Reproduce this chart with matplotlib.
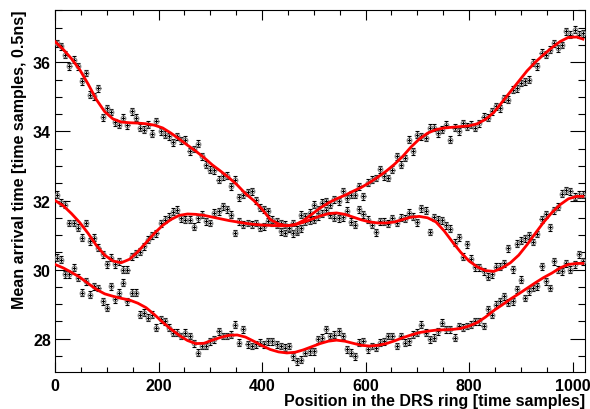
import numpy as np
import matplotlib
matplotlib.use("Agg")
import matplotlib.pyplot as plt
from matplotlib.ticker import MultipleLocator

# bin centres along the DRS ring (8-sample bins, +-4 half width)
pos = np.arange(4, 1024, 8)
pos_err = 4.0
t_err = 0.1

# mean arrival time per bin, three channels
arrival_top = [
    36.55, 36.46, 36.22, 35.88, 36.07, 35.88, 35.45, 35.69, 35.06, 35.01,
    35.25, 34.41, 34.67, 34.56, 34.26, 34.19, 34.39, 34.17, 34.58, 34.39,
    34.10, 34.05, 34.19, 33.93, 34.29, 34.00, 33.90, 33.86, 33.68, 33.86,
    33.74, 33.76, 33.42, 33.49, 33.64, 33.28, 33.04, 32.89, 32.87, 32.60,
    32.70, 32.72, 32.41, 32.60, 32.10, 32.17, 32.24, 32.27, 32.01, 31.79,
    31.74, 31.69, 31.45, 31.40, 31.35, 31.30, 31.20, 31.05, 31.15, 31.59,
    31.54, 31.64, 31.88, 31.74, 31.93, 31.98, 31.88, 32.03, 31.98, 32.27,
    32.07, 32.17, 32.17, 32.41, 32.12, 32.51, 32.60, 32.65, 32.91, 32.70,
    32.65, 32.89, 33.28, 33.04, 33.23, 33.76, 33.42, 33.90, 33.86, 33.81,
    34.10, 34.10, 33.95, 34.05, 34.19, 33.76, 34.10, 34.00, 34.24, 34.14,
    34.19, 34.10, 34.24, 34.43, 34.39, 34.58, 34.72, 34.67, 34.96, 34.92,
    35.20, 35.25, 35.40, 35.45, 35.50, 35.98, 35.88, 36.27, 36.22, 36.36,
    36.55, 36.41, 36.50, 36.89, 36.79, 36.94, 36.79, 36.84,
]
arrival_mid = [
    32.17, 31.93, 31.88, 31.35, 31.35, 31.21, 30.92, 31.35, 30.82, 30.92,
    30.63, 30.44, 30.15, 30.34, 30.15, 30.24, 30.00, 30.00, 30.39, 30.48,
    30.52, 30.67, 30.86, 31.00, 31.05, 31.34, 31.44, 31.53, 31.68, 31.73,
    31.49, 31.44, 31.44, 31.24, 31.49, 31.59, 31.40, 31.35, 31.64, 31.69,
    31.83, 31.74, 31.59, 31.06, 31.40, 31.30, 31.35, 31.30, 31.35, 31.21,
    31.26, 31.40, 31.35, 31.30, 31.11, 31.06, 31.21, 31.35, 31.10, 31.20,
    31.38, 31.42, 31.45, 31.55, 31.62, 31.72, 31.58, 31.50, 31.48, 31.52,
    31.70, 31.38, 31.30, 31.75, 31.60, 31.45, 31.30, 31.08, 31.40, 31.38,
    31.33, 31.48, 31.35, 31.50, 31.47, 31.65, 31.53, 31.37, 31.77, 31.71,
    31.09, 31.51, 31.45, 31.43, 31.28, 31.19, 30.78, 30.93, 30.38, 30.73,
    30.31, 30.07, 30.07, 29.95, 29.79, 29.86, 30.09, 30.09, 30.18, 30.62,
    30.01, 30.75, 30.83, 30.91, 30.99, 30.80, 31.03, 31.46, 31.60, 31.22,
    31.72, 31.82, 32.19, 32.30, 32.27, 32.11, 32.17, 32.17,
]
arrival_low = [
    30.34, 30.29, 29.86, 29.86, 30.05, 29.76, 29.33, 29.67, 29.28, 29.52,
    29.47, 29.09, 28.90, 29.52, 29.14, 29.33, 29.62, 29.09, 29.33, 29.33,
    28.70, 28.75, 28.61, 28.70, 28.32, 28.56, 28.51, 28.32, 28.17, 28.17,
    28.08, 28.17, 28.08, 27.87, 27.59, 27.79, 27.79, 27.93, 27.98, 28.22,
    28.08, 28.08, 28.12, 28.41, 27.88, 28.27, 27.84, 27.79, 27.84, 27.88,
    27.84, 27.93, 27.93, 27.84, 27.79, 27.74, 27.79, 27.50, 27.35, 27.40,
    27.59, 27.64, 27.64, 27.98, 28.03, 28.27, 28.08, 28.12, 28.22, 28.08,
    27.69, 27.59, 27.50, 27.88, 27.93, 27.69, 27.79, 27.74, 27.88, 27.93,
    28.08, 28.08, 27.79, 28.08, 27.88, 27.93, 28.12, 28.17, 28.41, 28.17,
    27.98, 28.03, 28.22, 28.46, 28.27, 28.27, 28.03, 28.37, 28.32, 28.37,
    28.41, 28.51, 28.51, 28.37, 28.85, 28.70, 28.99, 29.09, 29.23, 29.04,
    29.09, 29.43, 29.71, 29.18, 29.38, 29.47, 29.52, 30.10, 29.67, 29.47,
    30.24, 30.00, 29.95, 30.19, 30.00, 30.15, 30.44, 30.24,
]

# fitted curves, sampled every 16 samples
fit_x = np.append(np.arange(0, 1024, 16), 1020)
fit_top = [
    36.60, 36.37, 36.10, 35.78, 35.37, 34.92, 34.57, 34.36, 34.27, 34.25,
    34.24, 34.22, 34.18, 34.10, 33.95, 33.78, 33.60, 33.43, 33.24, 33.03,
    32.85, 32.66, 32.45, 32.20, 32.00, 31.75, 31.45, 31.32, 31.27, 31.30,
    31.42, 31.60, 31.78, 31.93, 32.05, 32.15, 32.27, 32.38, 32.52, 32.68,
    32.85, 33.05, 33.28, 33.55, 33.78, 33.95, 34.05, 34.10, 34.12, 34.14,
    34.16, 34.22, 34.35, 34.55, 34.85, 35.15, 35.45, 35.75, 36.00, 36.22,
    36.42, 36.60, 36.72, 36.73, 36.67,
]
fit_mid = [
    32.00, 31.85, 31.62, 31.36, 31.05, 30.70, 30.42, 30.25, 30.20, 30.30,
    30.52, 30.78, 31.05, 31.28, 31.45, 31.57, 31.61, 31.60, 31.57, 31.52,
    31.47, 31.42, 31.38, 31.34, 31.31, 31.29, 31.28, 31.27, 31.27, 31.30,
    31.37, 31.46, 31.55, 31.62, 31.64, 31.60, 31.52, 31.44, 31.38, 31.35,
    31.35, 31.38, 31.45, 31.52, 31.54, 31.50, 31.38, 31.12, 30.80, 30.50,
    30.25, 30.08, 29.97, 29.95, 30.05, 30.20, 30.42, 30.72, 31.05, 31.37,
    31.65, 31.88, 32.05, 32.12, 32.12,
]
fit_low = [
    30.15, 30.05, 29.92, 29.78, 29.60, 29.43, 29.30, 29.23, 29.17, 29.12,
    29.03, 28.90, 28.70, 28.48, 28.28, 28.10, 27.95, 27.86, 27.87, 27.96,
    28.04, 28.10, 28.11, 28.05, 27.93, 27.80, 27.69, 27.62, 27.59, 27.61,
    27.68, 27.77, 27.86, 27.93, 27.96, 27.93, 27.87, 27.81, 27.79, 27.81,
    27.86, 27.94, 28.03, 28.11, 28.18, 28.22, 28.25, 28.26, 28.27, 28.30,
    28.37, 28.47, 28.63, 28.82, 28.98, 29.15, 29.30, 29.46, 29.62, 29.77,
    29.90, 30.05, 30.15, 30.18, 30.18,
]

plt.rcParams["font.family"] = ["Liberation Sans", "DejaVu Sans"]
plt.rcParams["font.weight"] = "bold"

fig = plt.figure(figsize=(5.9, 4.1), dpi=100)
ax = fig.add_axes([0.0932, 0.0895, 0.8983, 0.8844])

for vals, fit in [(arrival_top, fit_top), (arrival_mid, fit_mid), (arrival_low, fit_low)]:
    ax.errorbar(pos, vals, yerr=t_err, fmt="none", ecolor="black",
                elinewidth=0.8, capsize=1.4, capthick=0.8, zorder=2)
    ax.errorbar(pos, vals, xerr=pos_err, fmt="none", ecolor="black",
                elinewidth=0.8, capsize=0, zorder=2)
    ax.plot(pos, vals, "o", mfc="none", mec="0.5", ms=3.4, mew=0.8, zorder=3)
    ax.plot(fit_x, fit, color="red", lw=2.0, zorder=5)

ax.set_xlim(0, 1024)
ax.set_ylim(27.03, 37.52)
ax.xaxis.set_major_locator(MultipleLocator(200))
ax.xaxis.set_minor_locator(MultipleLocator(50))
ax.yaxis.set_major_locator(MultipleLocator(2))
ax.yaxis.set_minor_locator(MultipleLocator(0.5))
ax.tick_params(which="both", direction="in", top=True, right=True, width=0.8, labelsize=11.5)
ax.tick_params(axis="x", which="major", length=7.2, pad=4)
ax.tick_params(axis="x", which="minor", length=3.3)
ax.tick_params(axis="y", which="major", length=11, pad=3)
ax.tick_params(axis="y", which="minor", length=5)
for s in ax.spines.values():
    s.set_linewidth(0.8)

ax.set_xlabel("Position in the DRS ring [time samples]", loc="right",
              fontsize=11.5, fontweight="bold", labelpad=0)
ax.set_ylabel("Mean arrival time [time samples, 0.5ns]", loc="top",
              fontsize=11.5, fontweight="bold", labelpad=4)

fig.savefig("out.png", dpi=100)
